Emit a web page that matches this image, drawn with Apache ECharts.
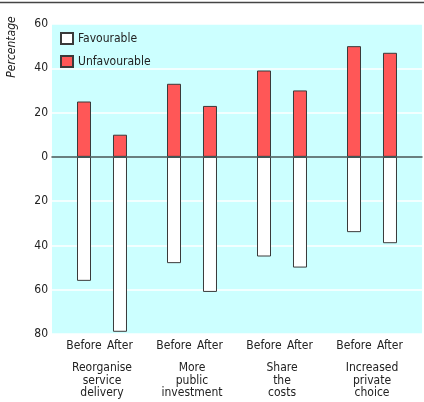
<!DOCTYPE html>
<html>
<head>
<meta charset="utf-8">
<script src="https://cdn.jsdelivr.net/npm/echarts@6/dist/echarts.min.js"></script>
<style>html,body{margin:0;padding:0;background:#fff}#c{width:424px;height:402px}</style>
</head>
<body>
<div id="c"></div>
<script>
var groups = ['Reorganise\nservice\ndelivery', 'More\npublic\ninvestment', 'Share\nthe\ncosts', 'Increased\nprivate\nchoice'];
var phases = ['Before', 'After'];
var favourableBefore = [56, 48, 45, 34];
var favourableAfter = [79, 61, 50, 39];
var unfavourableBefore = [25, 33, 39, 50];
var unfavourableAfter = [10, 23, 30, 47];
var yTicks = [-80, -60, -40, -20, 0, 20, 40, 60];

var FONT = '"Liberation Sans Narrow", "DejaVu Sans Condensed", "Liberation Sans", sans-serif';
var RED = '#ff5757';
var EDGE = '#3a3a3a';

var chart = echarts.init(document.getElementById('c'), null, {renderer: 'canvas'});
function neg(a){ return a.map(function(v){ return -v; }); }
var favStyle = {color: '#ffffff', borderColor: EDGE, borderWidth: 1};
var unfStyle = {color: RED, borderColor: EDGE, borderWidth: 1};

chart.setOption({
  animation: false,
  textStyle: {fontFamily: FONT},
  grid: [
    {left: 52, right: 2, top: 24, bottom: 68, show: true, backgroundColor: '#ccffff', borderWidth: 0},
    {left: 57, right: 7, top: 24, bottom: 68}
  ],
  graphic: [
    {type: 'line', shape: {x1: 0, y1: 2.5, x2: 424, y2: 2.5}, style: {stroke: '#444', lineWidth: 1.5}},
    {type: 'text', x: 12, y: 47, rotation: Math.PI / 2,
     style: {text: 'Percentage', font: 'italic 12px ' + FONT, fill: '#222', align: 'center', verticalAlign: 'middle'}}
  ],
  legend: {
    data: ['Favourable', 'Unfavourable'], orient: 'vertical', left: 60, top: 32, padding: 0,
    itemWidth: 12, itemHeight: 11, itemGap: 10, icon: 'rect',
    textStyle: {fontFamily: FONT, fontSize: 12, color: '#222'}
  },
  xAxis: [
    {type: 'value', gridIndex: 0, min: 0, max: 1, z: 10,
     axisLine: {show: true, onZero: true, lineStyle: {color: '#3d5555', width: 1.5}},
     axisTick: {show: false}, axisLabel: {show: false}, splitLine: {show: false}},
    {type: 'category', gridIndex: 1, data: groups, position: 'bottom',
     axisLine: {show: false}, axisTick: {show: false},
     axisLabel: {margin: 5, interval: 0, hideOverlap: false,
       formatter: function(){ return '{b|' + phases[0] + '}{a|' + phases[1] + '}'; },
       rich: {
         b: {width: 36, align: 'center', fontSize: 12, lineHeight: 14, color: '#222', fontFamily: FONT},
         a: {width: 36, align: 'center', fontSize: 12, lineHeight: 14, color: '#222', fontFamily: FONT}
       }}},
    {type: 'category', gridIndex: 1, data: groups, position: 'bottom',
     axisLine: {show: false}, axisTick: {show: false},
     axisLabel: {margin: 28, fontSize: 12, lineHeight: 12.5, color: '#222', fontFamily: FONT, interval: 0, hideOverlap: false}}
  ],
  yAxis: [
    {type: 'value', gridIndex: 0, min: yTicks[0], max: yTicks[yTicks.length - 1], interval: 20,
     axisLine: {show: false}, axisTick: {show: false},
     axisLabel: {margin: 4, fontSize: 12, color: '#222', fontFamily: FONT, formatter: function(v){ return String(Math.abs(v)); }},
     splitLine: {show: true, lineStyle: {color: '#ffffff', width: 1.5}}},
    {type: 'value', gridIndex: 1, min: yTicks[0], max: yTicks[yTicks.length - 1], interval: 20, show: false}
  ],
  series: [
    {name: 'Favourable', type: 'bar', xAxisIndex: 1, yAxisIndex: 1, stack: 'before', data: neg(favourableBefore), itemStyle: favStyle, barWidth: 14, barGap: '157%'},
    {name: 'Unfavourable', type: 'bar', xAxisIndex: 1, yAxisIndex: 1, stack: 'before', data: unfavourableBefore, itemStyle: unfStyle, barWidth: 14, barGap: '157%'},
    {name: 'Favourable', type: 'bar', xAxisIndex: 1, yAxisIndex: 1, stack: 'after', data: neg(favourableAfter), itemStyle: favStyle, barWidth: 14, barGap: '157%'},
    {name: 'Unfavourable', type: 'bar', xAxisIndex: 1, yAxisIndex: 1, stack: 'after', data: unfavourableAfter, itemStyle: unfStyle, barWidth: 14, barGap: '157%'}
  ]
});
</script>
</body>
</html>
